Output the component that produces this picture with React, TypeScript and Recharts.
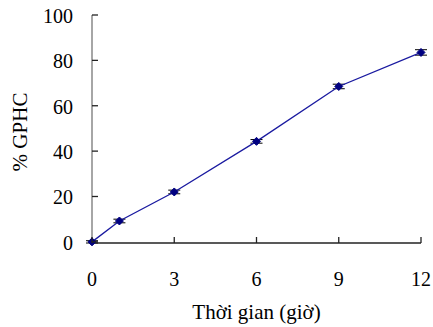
import {
  ErrorBar,
  Line,
  LineChart,
  XAxis,
  YAxis,
} from "recharts";

const hours = [0, 1, 3, 6, 9, 12];
const gphc = [0, 9.2, 22, 44.3, 68.5, 83.5];
const gphcErr = [0.5, 0.8, 0.8, 0.8, 1, 1.2];
const xTicks = [0, 3, 6, 9, 12];
const yTicks = [0, 20, 40, 60, 80, 100];

const data = hours.map((h, i) => ({ h, v: gphc[i], err: gphcErr[i] }));

const font = "Liberation Serif";
const fs = 20;
const labelFs = 21;

const XTick = (props: any) => {
  const { x, y, payload } = props;
  return (
    <g>
      <line x1={x} x2={x} y1={y} y2={y - 6} stroke="#222" strokeWidth={1.3} />
      <text x={x} y={y + 43} textAnchor="middle" fontSize={fs} fontFamily={font} fill="#000">
        {payload.value}
      </text>
    </g>
  );
};

const YTick = (props: any) => {
  const { x, y, payload } = props;
  return (
    <g>
      <line x1={x} x2={x + 6} y1={y} y2={y} stroke="#222" strokeWidth={1.3} />
      <text x={x - 19} y={y + 8} textAnchor="end" fontSize={fs} fontFamily={font} fill="#000">
        {payload.value}
      </text>
    </g>
  );
};

// axis titles, centred on the plot area
const XLabel = (props: any) => {
  const { viewBox } = props;
  const cx = viewBox.x + viewBox.width / 2;
  return (
    <text x={cx} y={319} textAnchor="middle" fontSize={labelFs} fontFamily={font} fill="#000">
      Thời gian (giờ)
    </text>
  );
};

const YLabel = (props: any) => {
  const { viewBox } = props;
  const cy = viewBox.y + viewBox.height / 2 + 3;
  const x = 27;
  return (
    <text
      x={x}
      y={cy}
      textAnchor="middle"
      transform={`rotate(-90 ${x} ${cy})`}
      fontSize={labelFs}
      fontFamily={font}
      fill="#000"
    >
      % GPHC
    </text>
  );
};

const Diamond = (props: any) => {
  const { cx, cy } = props;
  if (cx == null || cy == null) return null;
  const s = 4;
  return (
    <path
      d={`M${cx},${cy - s}L${cx + s},${cy}L${cx},${cy + s}L${cx - s},${cy}Z`}
      fill="#000080"
      stroke="#000080"
    />
  );
};

export default function App() {
  return (
    <div style={{ position: "absolute", left: 0, top: 0, background: "#fff" }}>
      <LineChart
        width={433}
        height={327}
        data={data}
        margin={{ top: 15, right: 12, left: 0, bottom: 0 }}
      >
        <XAxis
          dataKey="h"
          type="number"
          domain={[0, 12]}
          ticks={xTicks}
          height={84}
          tickSize={0}
          tickMargin={0}
          tick={<XTick />}
          tickLine={false}
          axisLine={{ stroke: "#222", strokeWidth: 1.3 }}
          label={<XLabel />}
        />
        <YAxis
          type="number"
          domain={[0, 100]}
          ticks={yTicks}
          width={92}
          tickSize={0}
          tickMargin={0}
          tick={<YTick />}
          tickLine={false}
          axisLine={{ stroke: "#888", strokeWidth: 1.5 }}
          label={<YLabel />}
        />
        <Line
          type="linear"
          dataKey="v"
          stroke="#1a1aa0"
          strokeWidth={1.3}
          dot={<Diamond />}
          activeDot={false}
          isAnimationActive={false}
        >
          <ErrorBar dataKey="err" width={6} stroke="#000" strokeWidth={1} direction="y" />
        </Line>
      </LineChart>
    </div>
  );
}
